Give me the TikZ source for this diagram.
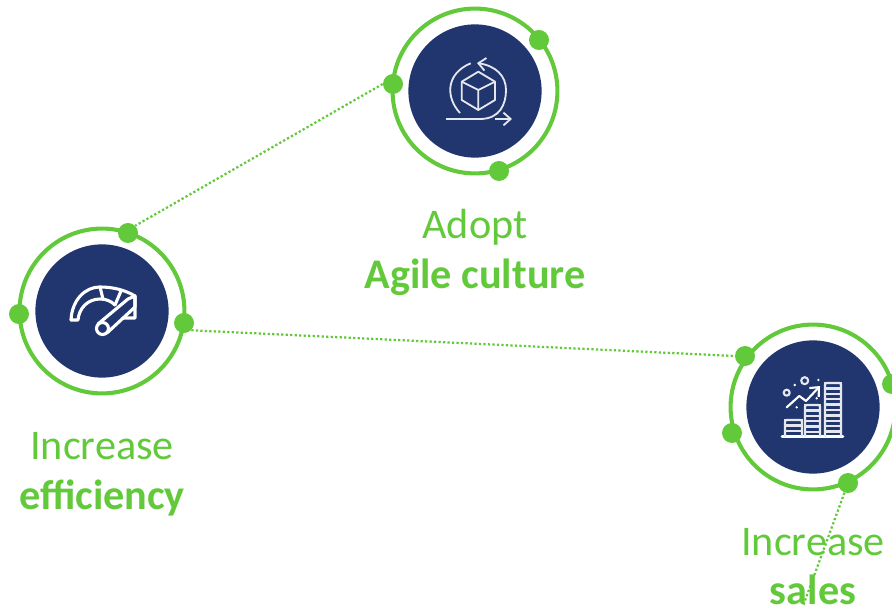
\documentclass[tikz,border=0pt]{standalone}
\usepackage{fontspec}
\setmainfont{Carlito}
\usepackage{xcolor}
\usetikzlibrary{arrows.meta, positioning, calc}
\definecolor{ringgreen}{HTML}{62C93B}
\definecolor{discnavy}{HTML}{21366F}
\begin{document}
\begin{tikzpicture}[x=0.025cm,y=-0.025cm,
ring/.style={circle, draw=ringgreen, line width=2.9pt, inner sep=0, minimum size=4.12cm},
disc/.style={circle, fill=discnavy, inner sep=0, minimum size=3.33cm},
dot/.style={circle, fill=ringgreen, inner sep=0, minimum size=0.5cm},
link/.style={ringgreen, line width=1.6pt, dash pattern=on 1.6pt off 1.6pt},
caption/.style={text=ringgreen, font=\fontsize{30}{32}\selectfont, inner sep=0, anchor=base},
icon/.style={white!88!discnavy, line width=1.3pt, line join=round},
iconfat/.style={white, line width=2.2pt, line join=round, line cap=round},
arrow/.style={-{Straight Barb[length=1.8mm,width=3.2mm]}}]
\useasboundingbox (0,0) rectangle (892,609);
% circles
\node[ring] (adoptring) at (475,91) {};
\node[disc] (adoptdisc) at (475,91) {};
\node[ring] (effring) at (102,311) {};
\node[disc] (effdisc) at (102,311) {};
\node[ring] (salesring) at (813,407) {};
\node[disc] (salesdisc) at (813,407) {};
% dots
\node[dot] (adopta) at (539,40) {};
\node[dot] (adoptb) at (393,84) {};
\node[dot] (adoptc) at (499,171) {};
\node[dot] (effa) at (128,233) {};
\node[dot] (effb) at (19,314) {};
\node[dot] (effc) at (184,323) {};
\node[dot] (salesa) at (745,356) {};
\node[dot] (salesb) at (732,433) {};
\node[dot] (salesc) at (848,483) {};
\node[dot] (salesd) at (892,384) {};
\coordinate (salesend) at (803,606);
% connectors
\draw[link] (adoptb.west) -- (effa.north east);
\draw[link] (effc.south east) -- (salesa.west);
\draw[link] (salesc) -- (salesend);
% captions
\node[caption] (adopttop) at (475,239) {Adopt};
\node[caption] (adoptbot) at (475,289) {\textbf{Agile culture}};
\node[caption] (efftop) at (102,459) {Increase};
\node[caption] (effbot) at (102,509) {\textbf{efficiency}};
\node[caption] (salestop) at (813,555) {Increase};
\node[caption] (salesbot) at (813,604) {\textbf{sales}};
% box icon
\draw[icon] (478.3,71.7) -- (495,81.7) -- (495,100) -- (478.3,110) -- (461.7,100) -- (461.7,81.7) -- cycle;
\draw[icon] (461.7,81.7) -- (478.3,90) -- (495,81.7) (478.3,90) -- (478.3,110);
\draw[icon] (460,113) .. controls (446,98) and (445,74) .. (470.7,63.3);
\draw[icon,arrow] (480,119) .. controls (500,119) and (506,104) .. (506,90) .. controls (506,76) and (496,66) .. (477,63);
\draw[icon] (446,119) -- (480,119);
\draw[icon,arrow] (495,119) -- (512,119);
% gauge icon
\draw[iconfat] (71,320) .. controls (72,300) and (85,287) .. (100,287) .. controls (113,287) and (125,290) .. (135,296) -- (135,318) -- (123,318);
\draw[iconfat] (71,320) -- (78,320) .. controls (79,308) and (88,299) .. (100,299) .. controls (106,299) and (111,301) .. (115,305);
\draw[iconfat] (100,287) -- (103,299) (121,291) -- (115,305);
\draw[iconfat] (98,324) -- (128,299) -- (135,296) -- (135,307) -- (107,333);
\draw[iconfat] (102.5,328.5) circle (6);
% coin icon
\draw[iconfat,line width=1.8pt] (782,436.7) -- (843,436.7);
\foreach \xa/\xb/\ytop in {785/802/420,805/820/405,825/841/383}
{
\draw[icon,line width=1.5pt,rounded corners=1pt] (\xa,436.7) -- (\xa,\ytop) -- (\xb,\ytop) -- (\xb,436.7);
\pgfmathsetmacro{\ysec}{\ytop+5.4}
\foreach \yc in {\ytop,\ysec,...,432}
\draw[icon,line width=1.6pt] (\xa-1,\yc) -- (\xb+1,\yc);
}
\draw[iconfat,arrow,line width=1.5pt] (786.7,407.3) -- (799.3,396) -- (806,401) -- (820,386);
\draw[icon,line width=1.5pt] (804.7,380.7) circle (3.5) (786.7,392.7) circle (3);
\foreach \xd/\yd in {794.7/385,818.3/380,816.7/398.3,796.7/407.3}
\fill[white] (\xd,\yd) circle (1.3);
\end{tikzpicture}
\end{document}
